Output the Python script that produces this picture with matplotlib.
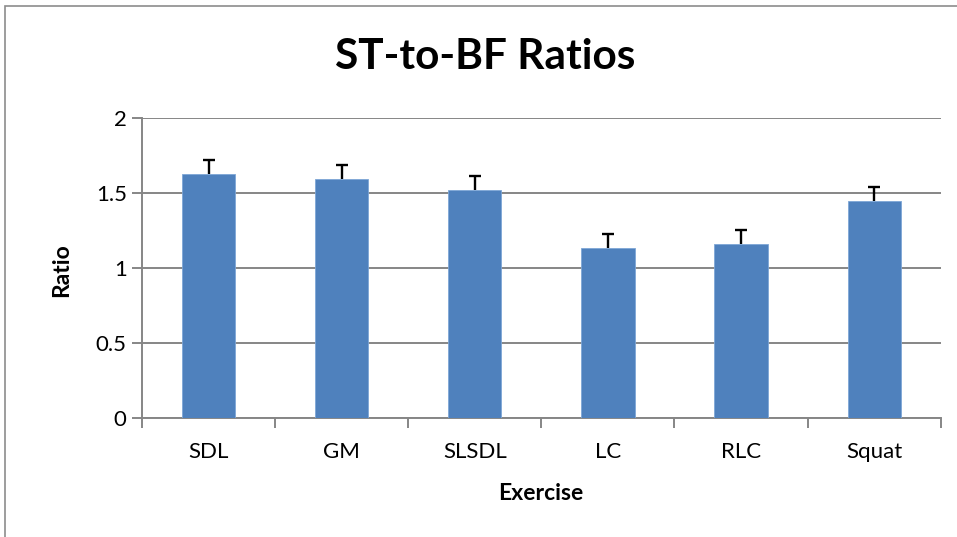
import matplotlib.pyplot as plt
import numpy as np
from matplotlib.patches import Rectangle

# ── Data ──────────────────────────────────────────────────────────────────────
exercises = ["SDL", "GM", "SLSDL", "LC", "RLC", "Squat"]
ratios    = [1.63, 1.595, 1.52, 1.135, 1.165, 1.45]
err_up    = [0.09, 0.093, 0.093, 0.093, 0.089, 0.091]

BAR_COLOR  = "#4F81BD"
GRID_COLOR = "#868686"

plt.rcParams["font.family"] = ["Lato", "DejaVu Sans"]

fig = plt.figure(figsize=(9.57, 5.37), dpi=100)
ax = fig.add_axes([142 / 957, 1 - 418.3 / 537, (940.7 - 142) / 957, 300 / 537])

x = np.arange(len(exercises))
ratios = np.array(ratios)
err_up = np.array(err_up)
ax.bar(x, ratios, width=0.4, color=BAR_COLOR, edgecolor="#7EA6D6", lw=0.6, zorder=3)

# upper-only error bars (Excel "plus" style)
ax.vlines(x, ratios, ratios + err_up, color="black", lw=1.7, zorder=4)
ax.hlines(ratios + err_up, x - 0.045, x + 0.045, color="black", lw=1.7, zorder=4)

ax.set_xlim(-0.5, len(exercises) - 0.5)
ax.set_ylim(0, 2)
ax.set_yticks([0, 0.5, 1, 1.5, 2])
ax.set_yticklabels(["0", "0.5", "1", "1.5", "2"])
ax.yaxis.grid(True, color=GRID_COLOR, lw=1.4, zorder=0)

# category labels in middle, ticks at boundaries
ax.set_xticks(x)
ax.set_xticklabels(exercises)
ax.set_xticks(np.arange(-0.5, len(exercises)), minor=True)
ax.tick_params(axis="x", which="major", length=0, pad=17, labelsize=16)
ax.tick_params(axis="x", which="minor", length=7, width=1.4, color=GRID_COLOR)
ax.tick_params(axis="y", length=7, width=1.4, color=GRID_COLOR, labelsize=16, pad=4)

for s in ["top", "right"]:
    ax.spines[s].set_visible(False)
for s in ["left", "bottom"]:
    ax.spines[s].set_color(GRID_COLOR)
    ax.spines[s].set_linewidth(1.4)

fig.text(485 / 957, 1 - 57 / 537, "ST-to-BF Ratios", ha="center", va="center",
         fontsize=30.5, fontweight="bold")
fig.text(62 / 957, 1 - 270 / 537, "Ratio", ha="center", va="center",
         rotation=90, fontsize=16.5, fontweight="bold")
fig.text(541 / 957, 1 - 493 / 537, "Exercise", ha="center", va="center",
         fontsize=16.5, fontweight="bold")

# chart-area border (only top/left visible in the crop)
fig.patches.append(Rectangle((5 / 957, -0.1), 1.2, 1 - 6 / 537 + 0.1,
                             transform=fig.transFigure, fill=False,
                             edgecolor="#8c8c8c", lw=1.2))

fig.savefig("out.png", dpi=100)
